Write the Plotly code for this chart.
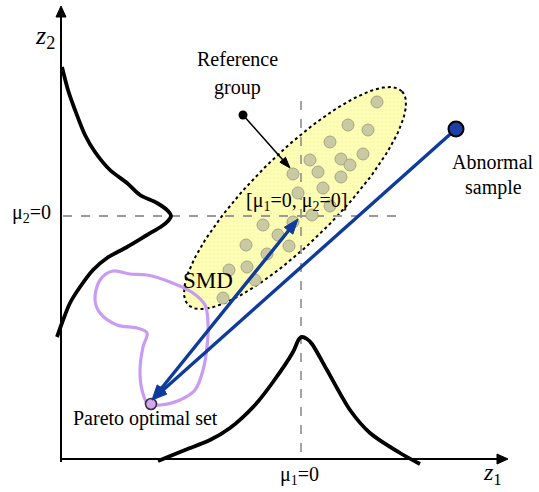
import numpy as np
import plotly.graph_objects as go

# Diagram coordinates: z1 horizontal, z2 vertical, reference mean at (0, 0)
z1_range = [-30.1, 23.8]
z2_range = [-27.6, 21.6]

axis_origin = (-24.0, -24.3)
z1_axis_tip = 20.7
z2_axis_tip = 21.0

# marginal density of z2 (drawn along the vertical axis)
left_pdf_z1 = [-23.9, -23.3, -22.6, -21.6, -20.6, -19.1, -17.4, -16.1, -14.4, -13.3, -13.0,
               -13.3, -13.9, -15.4, -17.4, -19.4, -20.8, -22.1, -23.1, -23.9, -24.4]
left_pdf_z2 = [14.9, 12.6, 10.6, 8.1, 6.4, 4.6, 3.3, 2.1, 1.3, 0.5, 0.0,
               -0.5, -1.0, -1.9, -3.1, -4.2, -5.4, -7.1, -8.7, -10.7, -12.1]

# marginal density of z1 (drawn along the horizontal axis)
bottom_pdf_z1 = [-14.3, -11.6, -9.1, -7.1, -4.6, -2.8, -0.8, -0.2, 0.1, 0.6, 1.1,
                 2.6, 4.9, 6.9, 9.9, 11.9]
bottom_pdf_z2 = [-24.5, -23.4, -22.4, -21.2, -18.9, -16.6, -13.6, -12.3, -12.1, -12.3, -12.8,
                 -15.4, -19.4, -21.7, -23.7, -24.8]

# reference group ellipse
ref_center = (-0.6, 1.8)
ref_semi_major = 15.1
ref_semi_minor = 4.3
ref_angle_deg = 45.0

# reference group samples
ref_z1 = [7.6, 4.7, 6.7, 2.9, 6.2, 0.9, 4.0, 4.9, 1.7, 4.0, -0.8, 2.2, -0.3,
          2.9, 1.1, -3.8, -0.8, -2.3, -1.2, -5.5, -3.4, -5.4, -7.2, -4.6, -7.8]
ref_z2 = [11.4, 9.1, 8.6, 7.4, 6.2, 5.6, 5.7, 5.1, 4.4, 3.9, 4.2, 2.8, 2.3,
          1.0, 0.1, -0.9, -0.6, -1.9, -3.0, -2.9, -3.8, -5.1, -5.4, -6.4, -8.2]

# boundary of the Pareto optimal set
pareto_z1 = [-18.8, -17.1, -15.4, -13.1, -10.8, -9.6, -9.3, -9.4, -9.8, -10.6, -12.1, -14.1,
             -15.3, -15.9, -16.1, -15.8, -15.4, -16.4, -18.4, -20.1, -20.6, -20.1, -18.8]
pareto_z2 = [-5.5, -5.8, -5.9, -6.6, -7.7, -8.9, -10.7, -13.1, -15.4, -17.4, -18.4, -18.9,
             -18.8, -17.4, -15.4, -13.1, -11.7, -11.2, -10.9, -9.7, -8.4, -6.4, -5.5]

pareto_point = (-15.0, -18.8)
abnormal_point = (15.5, 8.7)
smd_top = (-0.3, -0.3)
arrows_meet = (-14.9, -18.4)
label_pointer = ((-5.8, 10.1), (-1.1, 4.8))

FONT = "Liberation Serif"
BLUE = "#0f3b9c"
LAVENDER = "#c99cf4"


def head_path(tip, tail, length, width):
    dx, dy = tip[0] - tail[0], tip[1] - tail[1]
    n = np.hypot(dx, dy)
    ux, uy = dx / n, dy / n
    bx, by = tip[0] - ux * length, tip[1] - uy * length
    px, py = -uy * width / 2, ux * width / 2
    return f"M {tip[0]},{tip[1]} L {bx + px},{by + py} L {bx - px},{by - py} Z"


def shorten(tip, tail, amount):
    dx, dy = tip[0] - tail[0], tip[1] - tail[1]
    n = np.hypot(dx, dy)
    return (tip[0] - dx / n * amount, tip[1] - dy / n * amount)


fig = go.Figure()
shapes = []

# reference group ellipse with hatched yellow fill
t = np.linspace(0, 2 * np.pi, 200)
a = np.deg2rad(ref_angle_deg)
ex = ref_center[0] + ref_semi_major * np.cos(t) * np.cos(a) - ref_semi_minor * np.sin(t) * np.sin(a)
ey = ref_center[1] + ref_semi_major * np.cos(t) * np.sin(a) + ref_semi_minor * np.sin(t) * np.cos(a)
fig.add_trace(go.Scatter(
    x=ex, y=ey, mode="lines", fill="toself",
    fillcolor="#ffffb4",
    fillpattern=dict(shape="+", fgcolor="#e9e994", bgcolor="#ffffb8", size=4, solidity=0.25),
    line=dict(color="black", width=2, dash="dot"), hoverinfo="skip"))

# dashed mean lines
fig.add_trace(go.Scatter(x=[axis_origin[0] + 0.2, 10.4], y=[0, 0], mode="lines",
                         line=dict(color="#9a9a9a", width=1.8, dash="dash"), hoverinfo="skip"))
fig.add_trace(go.Scatter(x=[0, 0], y=[11.5, axis_origin[1]], mode="lines",
                         line=dict(color="#9a9a9a", width=1.8, dash="dash"), hoverinfo="skip"))

# reference samples
fig.add_trace(go.Scatter(x=ref_z1, y=ref_z2, mode="markers",
                         marker=dict(size=12, color="#c9c9a2", line=dict(color="#a5a588", width=1)),
                         hoverinfo="skip"))

# axes
fig.add_trace(go.Scatter(x=[axis_origin[0], axis_origin[0]], y=[-24.6, z2_axis_tip - 0.8], mode="lines",
                         line=dict(color="black", width=2), hoverinfo="skip"))
fig.add_trace(go.Scatter(x=[axis_origin[0], z1_axis_tip - 0.8], y=[axis_origin[1], axis_origin[1]], mode="lines",
                         line=dict(color="black", width=2), hoverinfo="skip"))
shapes.append(head_path((axis_origin[0], z2_axis_tip), axis_origin, 1.1, 1.0))
shapes.append(head_path((z1_axis_tip, axis_origin[1]), axis_origin, 1.1, 1.0))

# marginal densities
for xs, ys in [(left_pdf_z1, left_pdf_z2), (bottom_pdf_z1, bottom_pdf_z2)]:
    fig.add_trace(go.Scatter(x=xs, y=ys, mode="lines", line=dict(color="black", width=3.8, shape="spline", smoothing=0.8),
                             hoverinfo="skip"))

# Pareto optimal set boundary
fig.add_trace(go.Scatter(x=pareto_z1, y=pareto_z2, mode="lines",
                         line=dict(color=LAVENDER, width=3.2, shape="spline", smoothing=1.0), hoverinfo="skip"))

# pointer from the group label
p_start, p_tip = label_pointer
p_end = shorten(p_tip, p_start, 0.8)
fig.add_trace(go.Scatter(x=[p_start[0], p_end[0]], y=[p_start[1], p_end[1]], mode="lines",
                         line=dict(color="black", width=1.6), hoverinfo="skip"))
shapes.append(head_path(p_tip, p_start, 1.1, 0.75))
fig.add_trace(go.Scatter(x=[p_start[0]], y=[p_start[1]], mode="markers",
                         marker=dict(size=9, color="black"), hoverinfo="skip"))

# SMD arrow (both ends) and abnormal-sample arrow
smd_a = shorten(smd_top, arrows_meet, 1.0)
smd_b = shorten(arrows_meet, smd_top, 1.0)
fig.add_trace(go.Scatter(x=[smd_b[0], smd_a[0]], y=[smd_b[1], smd_a[1]], mode="lines",
                         line=dict(color=BLUE, width=3.4), hoverinfo="skip"))
shapes.append(head_path(smd_top, arrows_meet, 1.5, 1.1))
shapes.append(head_path(arrows_meet, smd_top, 1.5, 1.1))

ab_end = shorten(arrows_meet, abnormal_point, 1.0)
fig.add_trace(go.Scatter(x=[abnormal_point[0], ab_end[0]], y=[abnormal_point[1], ab_end[1]], mode="lines",
                         line=dict(color=BLUE, width=3.4), hoverinfo="skip"))
shapes.append(head_path(arrows_meet, abnormal_point, 1.5, 1.1))

# key points
fig.add_trace(go.Scatter(x=[abnormal_point[0]], y=[abnormal_point[1]], mode="markers",
                         marker=dict(size=15, color="#1e3ea8", line=dict(color="black", width=2)),
                         hoverinfo="skip"))
fig.add_trace(go.Scatter(x=[pareto_point[0]], y=[pareto_point[1]], mode="markers",
                         marker=dict(size=11, color="#d6a6f2", line=dict(color="#333333", width=1.6)),
                         hoverinfo="skip"))

for i, path in enumerate(shapes):
    color = BLUE if i >= 3 else "black"
    fig.add_shape(type="path", path=path, xref="x", yref="y",
                  fillcolor=color, line=dict(color=color, width=1))

labels = [
    ("Reference", -6.4, 15.7, 20, "center", "middle"),
    ("group", -6.4, 12.9, 20, "center", "middle"),
    ("Abnormal", 19.2, 5.4, 20, "center", "middle"),
    ("sample", 19.2, 2.9, 20, "center", "middle"),
    ("SMD", -9.3, -6.4, 23, "center", "middle"),
    ("Pareto optimal set", -15.6, -20.2, 20, "center", "middle"),
    ("[μ<sub>1</sub>=0, μ<sub>2</sub>=0]", -0.5, 1.5, 20, "center", "middle"),
    ("μ<sub>2</sub>=0", -24.8, 0.3, 20, "right", "middle"),
    ("μ<sub>1</sub>=0", -0.2, -25.9, 20, "center", "middle"),
    ("<i>z</i><sub>2</sub>", -25.6, 17.9, 26, "center", "middle"),
    ("<i>z</i><sub>1</sub>", 19.1, -27.5, 24, "center", "bottom"),
]
for text, x, y, size, xanc, yanc in labels:
    fig.add_annotation(x=x, y=y, text=text, showarrow=False, xanchor=xanc, yanchor=yanc,
                       font=dict(family=FONT, size=size, color="black"))

fig.update_layout(
    width=539, height=492, margin=dict(l=0, r=0, t=0, b=0),
    paper_bgcolor="white", plot_bgcolor="white", showlegend=False,
    xaxis=dict(range=z1_range, visible=False, fixedrange=True),
    yaxis=dict(range=z2_range, visible=False, fixedrange=True),
)

fig.write_html("out.html")
